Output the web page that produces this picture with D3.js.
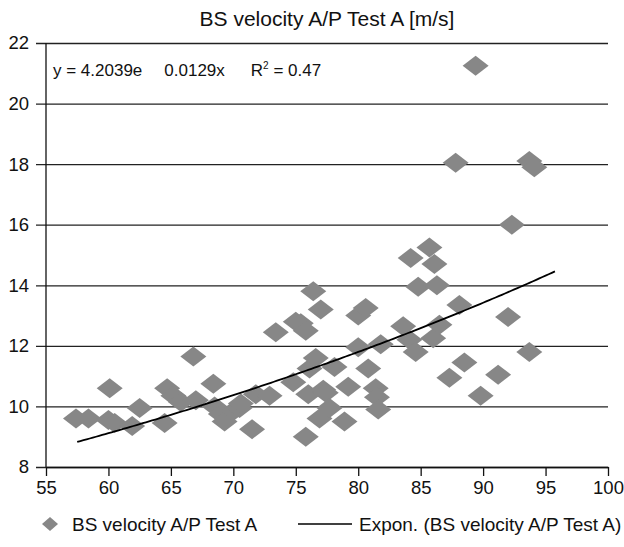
<!DOCTYPE html>
<html>
<head>
<meta charset="utf-8">
<script src="https://cdn.jsdelivr.net/npm/d3@7"></script>
<style>
body { margin: 0; background: #fff; }
text { font-family: "Liberation Sans", Arial, sans-serif; fill: #111; }
</style>
</head>
<body>
<div id="vis"></div>
<script>
// scatter points
const xVals = [57.4, 58.4, 60.0, 60.1, 60.5, 61.9, 62.5, 64.5, 64.7, 65.2,
    65.8, 66.8, 67.0, 68.4, 68.5, 69.0, 69.3, 70.0, 70.5, 70.6,
    71.5, 71.8, 72.9, 73.4, 74.8, 75.0, 75.4, 75.8, 75.8, 76.0,
    76.1, 76.4, 76.6, 76.9, 77.0, 77.2, 77.4, 77.7, 78.1, 78.9,
    79.2, 80.0, 80.0, 80.6, 80.8, 81.4, 81.5, 81.6, 81.8, 83.6,
    84.1, 84.2, 84.6, 84.8, 85.7, 86.0, 86.1, 86.3, 86.5, 87.3,
    87.8, 88.1, 88.5, 89.4, 89.8, 91.2, 92.0, 92.3, 93.7, 93.7, 94.1];
const yVals = [9.6, 9.6, 9.55, 10.6, 9.45, 9.35, 9.95, 9.45, 10.6, 10.35,
    10.15, 11.65, 10.2, 10.75, 10.0, 9.75, 9.5, 9.85, 9.95, 10.1,
    9.25, 10.4, 10.35, 12.45, 10.8, 12.8, 12.75, 12.5, 9.0, 10.4,
    11.25, 13.8, 11.6, 9.6, 13.2, 10.55, 10.45, 9.95, 11.3, 9.5,
    10.65, 13.0, 11.95, 13.25, 11.25, 10.6, 10.3, 9.9, 12.05, 12.65,
    12.2, 14.9, 11.8, 13.95, 15.25, 12.25, 14.7, 14.0, 12.7, 10.95,
    18.05, 13.35, 11.45, 21.25, 10.35, 11.05, 12.95, 16.0, 18.1, 11.8, 17.9];

const xTicks = [55, 60, 65, 70, 75, 80, 85, 90, 95, 100];
const yTicks = [8, 10, 12, 14, 16, 18, 20, 22];

// exponential trendline as printed on the chart
const trendA = 4.2039, trendB = 0.0129, trendR2 = 0.47;
const trendRange = [57.5, 95.8];

const seriesName = "BS velocity A/P Test A";
const chartTitle = "BS velocity A/P Test A [m/s]";

const W = 624, H = 547;
const margin = {top: 43, right: 16, bottom: 80, left: 46};
const width = W - margin.left - margin.right,
      height = H - margin.top - margin.bottom;

const svg = d3.select("#vis").append("svg")
    .attr("width", W)
    .attr("height", H);

const g = svg.append("g")
    .attr("transform", "translate(" + margin.left + "," + margin.top + ")");

const x = d3.scaleLinear().domain([55, 100]).range([0, width]);
const y = d3.scaleLinear().domain([8, 22]).range([height, 0]);

// diamond wider than tall, like the Excel marker
function diamond(hw, hh) {
    const p = d3.path();
    p.moveTo(0, -hh); p.lineTo(hw, 0); p.lineTo(0, hh); p.lineTo(-hw, 0); p.closePath();
    return p.toString();
}

// y axis with gridlines across the plot
const yAxis = g.append("g")
    .call(d3.axisLeft(y).tickValues(yTicks).tickSize(-width).tickSizeOuter(0).tickPadding(17));
yAxis.select(".domain").remove();
yAxis.selectAll(".tick line").attr("x1", -10).attr("stroke", "#222").attr("stroke-width", 1.3);
yAxis.selectAll(".tick text").attr("font-size", 18.5).attr("fill", "#111");

g.append("line")
    .attr("x1", 0).attr("x2", 0).attr("y1", 0).attr("y2", height)
    .attr("stroke", "#111").attr("stroke-width", 1.3);

const xAxis = g.append("g")
    .attr("transform", "translate(0," + height + ")")
    .call(d3.axisBottom(x).tickValues(xTicks).tickSize(9).tickSizeOuter(0).tickPadding(5));
xAxis.select(".domain").attr("stroke", "#111").attr("stroke-width", 1.3);
xAxis.selectAll(".tick line").attr("stroke", "#111").attr("stroke-width", 1.3);
xAxis.selectAll(".tick text").attr("font-size", 18.5).attr("fill", "#111");

// points
const pts = xVals.map((v, i) => ({x: v, y: yVals[i]}));
g.selectAll(".pt")
    .data(pts)
  .enter().append("path")
    .attr("class", "pt")
    .attr("d", diamond(13, 10))
    .attr("transform", d => "translate(" + x(d.x) + "," + y(d.y) + ")")
    .attr("fill", "#878787");

// trendline
const trendPts = d3.range(trendRange[0], trendRange[1] + 0.001, 0.25)
    .map(v => ({x: v, y: trendA * Math.exp(trendB * v)}));
g.append("path")
    .datum(trendPts)
    .attr("fill", "none")
    .attr("stroke", "#000")
    .attr("stroke-width", 1.8)
    .attr("d", d3.line().x(d => x(d.x)).y(d => y(d.y)));

// title
svg.append("text")
    .attr("x", margin.left + width / 2)
    .attr("y", 26)
    .attr("text-anchor", "middle")
    .attr("font-size", 21)
    .text(chartTitle);

// equation
const eq = g.append("text")
    .attr("x", 7)
    .attr("y", 33)
    .attr("font-size", 17);
eq.append("tspan").text("y = " + trendA + "e");
eq.append("tspan").attr("dx", 22).text(trendB + "x");
eq.append("tspan").attr("dx", 26).text("R");
eq.append("tspan").attr("dy", -7).attr("font-size", 10).text("2");
eq.append("tspan").attr("dy", 7).text(" = " + trendR2);

// legend
const leg = svg.append("g").attr("transform", "translate(0,524)");
leg.append("path")
    .attr("d", diamond(8, 7))
    .attr("transform", "translate(50,0)")
    .attr("fill", "#878787");
leg.append("text").attr("x", 72).attr("y", 7).attr("font-size", 19).text(seriesName);
leg.append("line")
    .attr("x1", 298).attr("x2", 352).attr("y1", 0).attr("y2", 0)
    .attr("stroke", "#000").attr("stroke-width", 1.5);
leg.append("text").attr("x", 359).attr("y", 7).attr("font-size", 19).text("Expon. (" + seriesName + ")");
</script>
</body>
</html>
